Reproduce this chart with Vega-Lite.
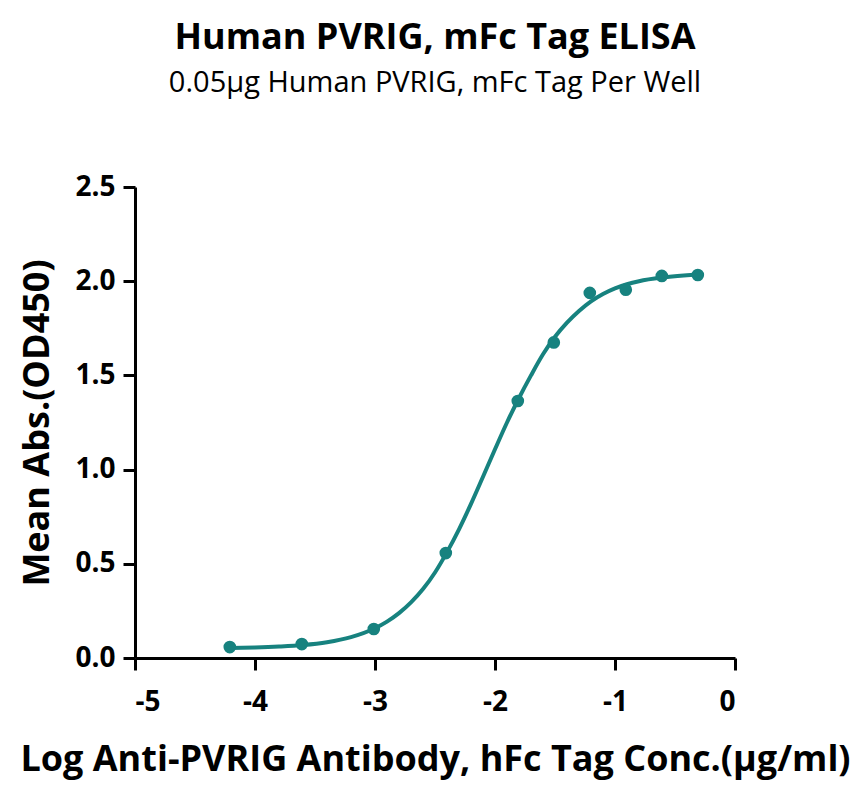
{
  "$schema": "https://vega.github.io/schema/vega-lite/v6.json",
  "width": 600,
  "height": 471,
  "autosize": {"type": "none"},
  "padding": {"left": 135, "top": 187, "right": 129, "bottom": 136},
  "background": "white",
  "config": {"view": {"stroke": null}},
  "title": {
    "text": "Human PVRIG, mFc Tag ELISA",
    "subtitle": "0.05µg Human PVRIG, mFc Tag Per Well",
    "anchor": "middle",
    "font": "Open Sans",
    "fontSize": 36,
    "fontWeight": "bold",
    "color": "black",
    "subtitleFont": "Open Sans",
    "subtitleFontSize": 29,
    "subtitleColor": "black",
    "subtitlePadding": 12,
    "offset": 74
  },
  "datasets": {
    "points": [
      {"x": -4.21, "y": 0.058},
      {"x": -3.61, "y": 0.074},
      {"x": -3.01, "y": 0.154},
      {"x": -2.41, "y": 0.557},
      {"x": -1.81, "y": 1.364},
      {"x": -1.51, "y": 1.675},
      {"x": -1.21, "y": 1.938},
      {"x": -0.91, "y": 1.955},
      {"x": -0.61, "y": 2.028},
      {"x": -0.31, "y": 2.033}
    ],
    "curve": [
      {"x": -4.21, "y": 0.053},
      {"x": -4.0, "y": 0.056},
      {"x": -3.8, "y": 0.061},
      {"x": -3.6, "y": 0.069},
      {"x": -3.4, "y": 0.084},
      {"x": -3.2, "y": 0.111},
      {"x": -3.0, "y": 0.158},
      {"x": -2.9, "y": 0.193},
      {"x": -2.8, "y": 0.238},
      {"x": -2.7, "y": 0.295},
      {"x": -2.6, "y": 0.366},
      {"x": -2.5, "y": 0.454},
      {"x": -2.4, "y": 0.562},
      {"x": -2.3, "y": 0.683},
      {"x": -2.2, "y": 0.818},
      {"x": -2.1, "y": 0.962},
      {"x": -2.0, "y": 1.108},
      {"x": -1.9, "y": 1.250},
      {"x": -1.8, "y": 1.380},
      {"x": -1.7, "y": 1.500},
      {"x": -1.6, "y": 1.612},
      {"x": -1.5, "y": 1.705},
      {"x": -1.4, "y": 1.780},
      {"x": -1.3, "y": 1.842},
      {"x": -1.2, "y": 1.893},
      {"x": -1.1, "y": 1.932},
      {"x": -1.0, "y": 1.962},
      {"x": -0.9, "y": 1.984},
      {"x": -0.8, "y": 2.000},
      {"x": -0.6, "y": 2.020},
      {"x": -0.31, "y": 2.036}
    ]
  },
  "layer": [
    {
      "data": {"name": "curve"},
      "mark": {"type": "line", "color": "#17827f", "strokeWidth": 4, "interpolate": "monotone"},
      "encoding": {
        "x": {
          "field": "x", "type": "quantitative",
          "scale": {"domain": [-5, 0], "nice": false, "zero": false},
          "axis": {
            "values": [-5, -4, -3, -2, -1, 0],
            "labelExpr": "'' + datum.value",
            "title": "Log Anti-PVRIG Antibody, hFc Tag Conc.(µg/ml)",
            "grid": false,
            "domainColor": "black", "domainWidth": 3,
            "tickColor": "black", "tickWidth": 3, "tickSize": 12,
            "labelFont": "Open Sans", "labelFontSize": 28, "labelFontWeight": "bold", "labelColor": "black",
            "labelPadding": 18,
            "titleFont": "Open Sans", "titleFontSize": 36, "titleFontWeight": "bold", "titleColor": "black",
            "titlePadding": 26
          }
        },
        "y": {
          "field": "y", "type": "quantitative",
          "scale": {"domain": [0, 2.5], "nice": false},
          "axis": {
            "values": [0, 0.5, 1.0, 1.5, 2.0, 2.5],
            "format": ".1f",
            "title": "Mean Abs.(OD450)",
            "grid": false,
            "domainColor": "black", "domainWidth": 3,
            "tickColor": "black", "tickWidth": 3, "tickSize": 12,
            "labelFont": "Open Sans", "labelFontSize": 28, "labelFontWeight": "bold", "labelColor": "black",
            "labelPadding": 8,
            "titleFont": "Open Sans", "titleFontSize": 36, "titleFontWeight": "bold", "titleColor": "black",
            "titlePadding": 18
          }
        }
      }
    },
    {
      "data": {"name": "points"},
      "mark": {"type": "point", "filled": true, "shape": "circle", "color": "#17827f", "opacity": 1, "size": 160},
      "encoding": {
        "x": {"field": "x", "type": "quantitative"},
        "y": {"field": "y", "type": "quantitative"}
      }
    }
  ]
}
